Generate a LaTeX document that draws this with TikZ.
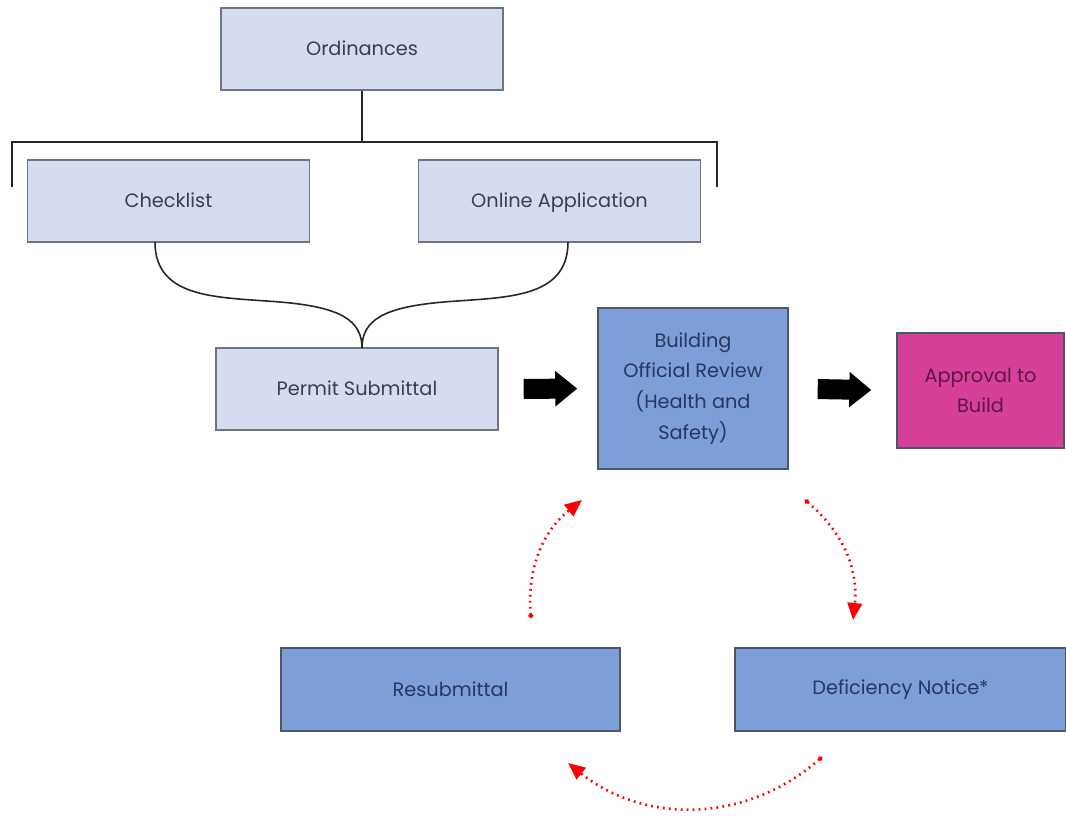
\documentclass[tikz,border=0pt]{standalone}
\usepackage{fontspec}
\setmainfont{Poppins}
\usepackage{tikz}
\usetikzlibrary{arrows.meta,shapes}

\definecolor{paleblue}{HTML}{D6DCF0}
\definecolor{midblue}{HTML}{7C9FD8}
\definecolor{boxline}{HTML}{6D7585}
\definecolor{darkline}{HTML}{4D5566}
\definecolor{textgray}{HTML}{3A3F4A}
\definecolor{textnavy}{HTML}{26385E}
\definecolor{pinkfill}{HTML}{D6409A}
\definecolor{textplum}{HTML}{5E1841}

\begin{document}
\begin{tikzpicture}[x=0.2mm,y=-0.2mm]
	\useasboundingbox (0,0) rectangle (1066,819);
	\tikzstyle{lightbox} = [draw=boxline,fill=paleblue,rectangle,line width=0.8pt,minimum width=56.4mm,minimum height=16.4mm,text=textgray,font=\fontsize{11}{16}\selectfont,text height=2ex,text depth=0.6ex]
	\tikzstyle{darkbox} = [draw=darkline,fill=midblue,rectangle,line width=0.8pt,minimum height=16.6mm,text=textnavy,font=\fontsize{11}{17.5}\selectfont,align=center]
	\tikzstyle{fatarrow} = [line width=4mm,-{Triangle[length=4.4mm,width=6.8mm]},shorten <=5mm,shorten >=4mm]
	\tikzstyle{redarc} = [red,line width=1.5pt,dash pattern=on 1pt off 2.4pt,{Circle[length=2.6pt]}-{Triangle[length=3.4mm,width=2.9mm]}]
	\tikzstyle{joint} = [line width=0.9pt,color=black!85]

	% top of the tree
	\node[lightbox] (ord) at (362,49) {Ordinances};
	\node[lightbox] (check) at (168.5,201) {Checklist};
	\node[lightbox] (online) at (559.5,201) {Online Application};
	\node[lightbox] (permit) at (357,389) {Permit Submittal};

	% bracket under Ordinances
	\coordinate (bt) at (362,142);
	\coordinate (bl) at (12,142);
	\coordinate (br) at (717,142);
	\draw[joint] (ord.south) -- (bt);
	\draw[joint] ([yshift=-9mm]bl) -- (bl) -- (br) -- ([yshift=-9mm]br);

	% brace into Permit Submittal
	\coordinate (tip) at (362,348);
	\coordinate (cl) at (155,242);
	\coordinate (cr) at (568,242);
	\draw[joint] (cl) .. controls (155,300) and (220,297) .. (280,302) .. controls (340,307) and (362,320) .. (tip);
	\draw[joint] (cr) .. controls (568,300) and (503,297) .. (444,302) .. controls (384,307) and (362,320) .. (tip);

	% review and approval
	\node[darkbox,minimum width=38mm,minimum height=32.2mm] (review) at (693,388.5) {Building\\Official Review\\(Health and\\Safety)};
	\node[darkbox,fill=pinkfill,text=textplum,minimum width=33.4mm,minimum height=23mm] (approve) at (980.5,390.5) {Approval to\\Build};
	\draw[fatarrow] (permit.east) -- (review.west);
	\draw[fatarrow,shorten <=5.8mm,shorten >=5mm] (review.east) -- (approve.west);

	% resubmittal loop
	\node[darkbox,minimum width=67.8mm] (resub) at (450.5,689.5) {Resubmittal};
	\node[darkbox,minimum width=66.2mm] (defic) at (900.5,689.5) {Deficiency Notice*};
	\coordinate (a1) at (531,618);
	\coordinate (a2) at (582,500);
	\coordinate (b1) at (805,500);
	\coordinate (b2) at (853,620);
	\coordinate (c1) at (822,757);
	\coordinate (c2) at (568,763);
	\draw[redarc] (a1) to[bend left=28] (a2);
	\draw[redarc] (b1) to[bend left=28] (b2);
	\draw[redarc] (c1) to[bend left=40] (c2);
\end{tikzpicture}
\end{document}
